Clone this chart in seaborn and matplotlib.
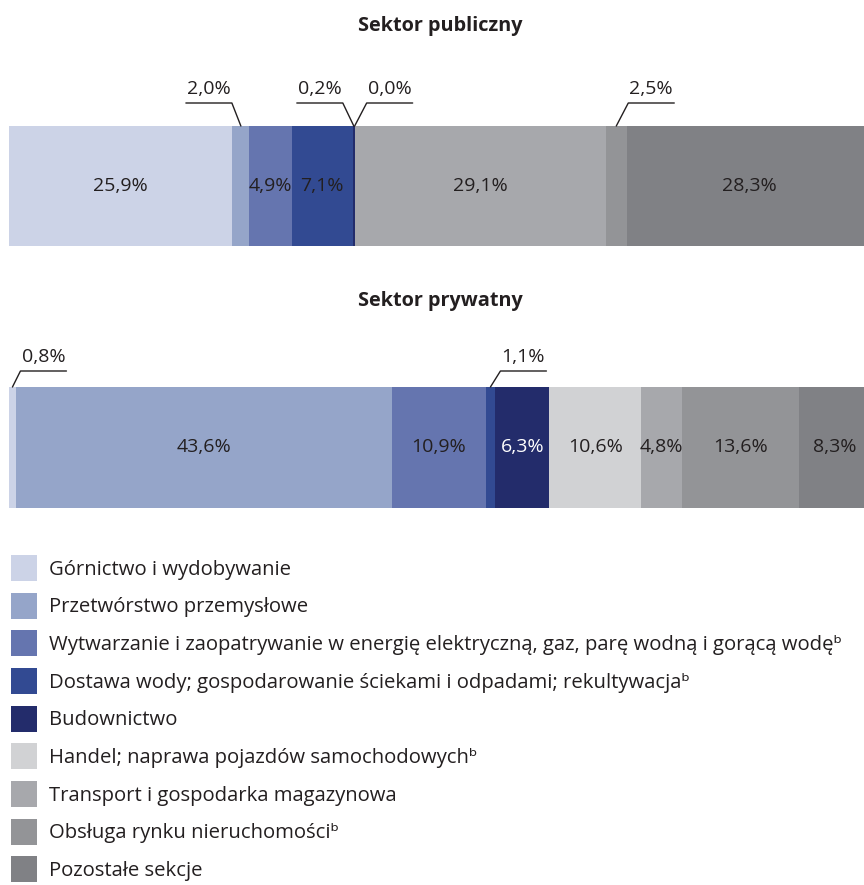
import matplotlib
matplotlib.use('Agg')
import matplotlib.pyplot as plt
import numpy as np
import pandas as pd
import seaborn as sns
from matplotlib.patches import Patch

sections = ['Górnictwo i wydobywanie',
            'Przetwórstwo przemysłowe',
            'Wytwarzanie i zaopatrywanie w energię elektryczną, gaz, parę wodną i gorącą wodęᵇ',
            'Dostawa wody; gospodarowanie ściekami i odpadami; rekultywacjaᵇ',
            'Budownictwo',
            'Handel; naprawa pojazdów samochodowychᵇ',
            'Transport i gospodarka magazynowa',
            'Obsługa rynku nieruchomościᵇ',
            'Pozostałe sekcje']
public = [25.9, 2.0, 4.9, 7.1, 0.2, 0.0, 29.1, 2.5, 28.3]
private = [0.8, 43.6, 10.9, 1.1, 6.3, 10.6, 4.8, 13.6, 8.3]

colors = ['#CCD3E7', '#95A5C9', '#6575AF', '#324A92', '#232C6B',
          '#D1D2D4', '#A7A8AC', '#939497', '#808185']
txt_col = '#231F20'

# small segments get a leader line: index -> (elbow dx px, direction)
public_callouts = {1: (-9, -1), 4: (-11, -1), 5: (12, 1), 7: (12, 1)}
private_callouts = {0: (8, 1), 3: (10, 1)}

sns.set_theme(style='white')
plt.rcParams['font.family'] = ['Open Sans', 'DejaVu Sans']

W, H = 864, 885
BW = 862  # bar length in px (runs a little past the right edge)
fig = plt.figure(figsize=(W / 100, H / 100), dpi=100)
PX = 100 / BW  # data units per pixel
FS = 14


def fmt(v):
    return f'{v:.1f}'.replace('.', ',') + '%'


def draw_sector(top, height, values, callouts, name, line_px):
    ax = fig.add_axes([9 / W, 1 - (top + height) / H, BW / W, height / H])
    df = pd.DataFrame({'sekcja': sections, 'val': values, 'kolor': colors})
    df['cum'] = df['val'].cumsum()
    # layered cumulative bars, widest first
    for i in range(len(df) - 1, -1, -1):
        sns.barplot(x=[df['cum'][i]], y=[name], color=df['kolor'][i],
                    width=1, saturation=1, orient='h', ax=ax, linewidth=0)
    ax.set_xlim(0, 100)
    ax.set_ylim(0.5, -0.5)
    ax.axis('off')
    tr = ax.get_xaxis_transform()
    yl = 1 + line_px / height
    for i in range(len(df)):
        v = df['val'][i]
        c = df['cum'][i] - v / 2
        if i in callouts:
            dx, d = callouts[i]
            ex = c + dx * PX
            hx = ex + d * 46 * PX
            ax.plot([c, ex, hx], [1.0, yl, yl], color='#231F20', lw=1,
                    transform=tr, clip_on=False)
            ax.text((ex + hx) / 2, yl + 5 / height, fmt(v), transform=tr,
                    ha='center', va='bottom', fontsize=FS, color=txt_col)
        else:
            col = 'white' if i == 4 else txt_col
            ax.text(c, 0.5, fmt(v), transform=tr, ha='center', va='center',
                    fontsize=FS, color=col)
    return ax


draw_sector(126, 120, public, public_callouts, 'pub', 23)
draw_sector(387, 121, private, private_callouts, 'priv', 16)

fig.text(440 / W, 1 - 26 / H, 'Sektor publiczny', ha='center', va='center',
         fontsize=14.3, fontweight='bold', color=txt_col)
fig.text(440 / W, 1 - 301 / H, 'Sektor prywatny', ha='center', va='center',
         fontsize=14.3, fontweight='bold', color=txt_col)

handles = [Patch(facecolor=c, edgecolor='none') for c in colors]
fig.legend(handles, sections, loc='upper left',
           bbox_to_anchor=(11 / W, 1 - 555 / H), frameon=False,
           fontsize=14.6, handlelength=1.28, handleheight=1.59,
           labelspacing=0.58, handletextpad=0.6, borderpad=0,
           borderaxespad=0, labelcolor=txt_col)

fig.savefig('out.png', dpi=100)
